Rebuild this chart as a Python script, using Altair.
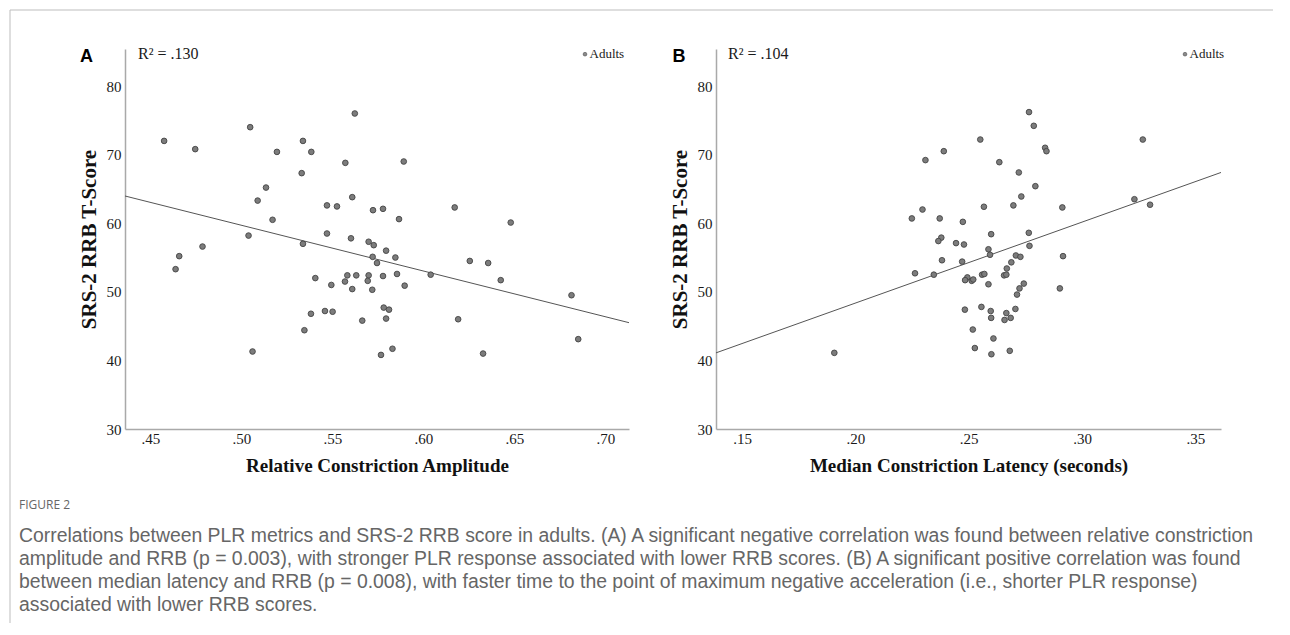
import altair as alt
import pandas as pd

# ---------------- data ----------------
a_amplitude = [0.4575, 0.4638, 0.4658, 0.4746, 0.4786, 0.5039, 0.5048, 0.5061, 0.5089, 0.5135, 0.5171, 0.5195,
               0.5623, 0.5338, 0.5384, 0.5571, 0.5892, 0.5331, 0.5609, 0.5470, 0.5525, 0.5723, 0.5778, 0.6172,
               0.5866, 0.5470, 0.5338, 0.5602, 0.5699, 0.5727, 0.5795, 0.5721, 0.5846, 0.5745, 0.6255, 0.5406,
               0.5582, 0.5631, 0.5699, 0.5778, 0.5855, 0.6040, 0.5494, 0.5569, 0.5694, 0.5897, 0.5609, 0.5719,
               0.5382, 0.5459, 0.5501, 0.5782, 0.5811, 0.5664, 0.5795, 0.6191, 0.5346, 0.5767, 0.5830,
               0.6356, 0.6425, 0.6480, 0.6814, 0.6851, 0.6328]
a_rrb = [72.0, 53.3, 55.2, 70.8, 56.6, 58.2, 74.0, 41.3, 63.3, 65.2, 60.5, 70.4,
         76.0, 72.0, 70.4, 68.8, 69.0, 67.3, 63.8, 62.6, 62.45, 61.9, 62.1, 62.3,
         60.6, 58.5, 57.0, 57.8, 57.3, 56.8, 56.0, 55.1, 55.0, 54.2, 54.5, 52.0,
         52.4, 52.4, 52.4, 52.3, 52.6, 52.5, 51.0, 51.5, 51.6, 50.9, 50.4, 50.3,
         46.8, 47.2, 47.1, 47.7, 47.4, 45.8, 46.1, 46.0, 44.4, 40.8, 41.7,
         54.2, 51.7, 60.1, 49.5, 43.1, 41.0]

b_latency = [0.2766, 0.2787, 0.2551, 0.2837, 0.2843, 0.2390, 0.2309, 0.2635, 0.2721, 0.2794, 0.2732, 0.2567,
             0.2697, 0.2913, 0.2296, 0.2249, 0.2372, 0.2474, 0.2599, 0.2765, 0.2379, 0.2366, 0.2444, 0.2479,
             0.2768, 0.2587, 0.2594, 0.2916, 0.2708, 0.2728, 0.2688, 0.2382, 0.2471, 0.2668, 0.2263, 0.2346,
             0.2559, 0.2569, 0.2656, 0.2666, 0.2494, 0.2484, 0.2513, 0.2520, 0.2587, 0.2743, 0.2724, 0.2902,
             0.2713, 0.2483, 0.2556, 0.2597, 0.2706, 0.2666, 0.2599, 0.2658, 0.2685, 0.2518, 0.2609, 0.2527,
             0.2600, 0.2681, 0.1907, 0.3268, 0.3231, 0.3300]
b_rrb = [76.2, 74.2, 72.2, 71.0, 70.5, 70.5, 69.2, 68.9, 67.4, 65.4, 63.9, 62.4,
         62.6, 62.3, 62.0, 60.7, 60.7, 60.2, 58.4, 58.6, 57.9, 57.4, 57.1, 56.9,
         56.7, 56.2, 55.4, 55.2, 55.3, 55.1, 54.3, 54.6, 54.4, 53.4, 52.7, 52.5,
         52.5, 52.6, 52.4, 52.5, 52.1, 51.7, 51.6, 51.8, 51.1, 51.2, 50.5, 50.5,
         49.6, 47.4, 47.8, 47.2, 47.5, 46.9, 46.2, 45.9, 46.2, 44.5, 43.2, 41.8,
         40.9, 41.4, 41.1, 72.2, 63.5, 62.7]

a_fit_x = [0.436, 0.713]
a_fit_y = [63.97, 45.5]
b_fit_x = [0.1385, 0.3613]
b_fit_y = [41.1, 67.4]

a_domain = [0.436, 0.713]
b_domain = [0.1385, 0.3613]
y_domain = [30, 85.4]
a_ticks = [0.45, 0.50, 0.55, 0.60, 0.65, 0.70]
b_ticks = [0.15, 0.20, 0.25, 0.30, 0.35]
y_ticks = [30, 40, 50, 60, 70, 80]

y_title = "SRS-2 RRB T-Score"
a_xtitle = "Relative Constriction Amplitude"
b_xtitle = "Median Constriction Latency (seconds)"
a_r2 = ["R\u00b2 = .130"]
b_r2 = ["R\u00b2 = .104"]
legend_label = ["Adults"]
fig_label = ["FIGURE 2"]
caption = ["Correlations between PLR metrics and SRS-2 RRB score in adults. (A) A significant negative correlation was found between relative constriction\n"
           "amplitude and RRB (p = 0.003), with stronger PLR response associated with lower RRB scores. (B) A significant positive correlation was found\n"
           "between median latency and RRB (p = 0.008), with faster time to the point of maximum negative acceleration (i.e., shorter PLR response)\n"
           "associated with lower RRB scores."]

SERIF = "Liberation Serif"
PW_A, PW_B, PH = 504, 505, 380


def one(col, vals):
    return pd.DataFrame({col: vals})


def panel(xs, ys, fx, fy, domain, ticks, xtitle, r2, letter, width,
          r2_x, leg_x, letter_x, extras=None):
    xscale = alt.Scale(domain=domain, nice=False, zero=False)
    yscale = alt.Scale(domain=y_domain, nice=False, zero=False)
    xaxis = alt.Axis(values=ticks, labelExpr="substring(format(datum.value, '.2f'), 1)",
                     title=xtitle, titleFontSize=19, labelPadding=2, titlePadding=10,
                     ticks=False, grid=False)
    yaxis = alt.Axis(values=y_ticks, title=y_title, titleFontSize=21, labelPadding=4,
                     titlePadding=7, ticks=False, grid=False)
    pts_df = pd.DataFrame({"x": xs, "y": ys})
    fit_df = pd.DataFrame({"x": fx, "y": fy})
    fit = alt.Chart(fit_df).mark_line(color="#555555", strokeWidth=1).encode(
        x=alt.X("x:Q", scale=xscale, axis=xaxis), y=alt.Y("y:Q", scale=yscale, axis=yaxis))
    pts = alt.Chart(pts_df).mark_circle(size=32, color="#7c7c7c", stroke="#444444",
                                        strokeWidth=0.9, opacity=1).encode(
        x=alt.X("x:Q", scale=xscale), y=alt.Y("y:Q", scale=yscale))
    r2t = alt.Chart(one("t", r2)).mark_text(font=SERIF, fontSize=16, align="left",
                                           baseline="middle", color="#1a1a1a").encode(
        text="t:N", x=alt.value(r2_x), y=alt.value(5))
    legp = alt.Chart(one("t", legend_label)).mark_circle(size=14, color="#8a8a8a",
                                                         stroke="#555555", strokeWidth=0.6,
                                                         opacity=1).encode(
        x=alt.value(leg_x), y=alt.value(5.2))
    legt = alt.Chart(one("t", legend_label)).mark_text(font=SERIF, fontSize=13, align="left",
                                                       baseline="middle", color="#1a1a1a").encode(
        text="t:N", x=alt.value(leg_x + 4.5), y=alt.value(5.2))
    lett = alt.Chart(one("t", [letter])).mark_text(font="Liberation Sans", fontSize=18,
                                                  fontWeight="bold", align="center",
                                                  baseline="middle", color="#000000").encode(
        text="t:N", x=alt.value(letter_x), y=alt.value(8))
    layers = [fit, pts, r2t, legp, legt, lett]
    if extras:
        layers += extras
    return alt.layer(*layers).properties(width=width, height=PH)


# frame and caption, placed relative to panel A
frame_left = alt.Chart(one("t", fig_label)).mark_rule(color="#bdbdbd", strokeWidth=1).encode(
    x=alt.value(-115), y=alt.value(-39), y2=alt.value(574))
frame_top = alt.Chart(one("t", fig_label)).mark_rule(color="#bdbdbd", strokeWidth=1).encode(
    x=alt.value(-115), x2=alt.value(1148), y=alt.value(-39))
fig_text = alt.Chart(one("t", fig_label)).mark_text(font="Open Sans", fontSize=12, align="left",
                                                    baseline="middle", color="#666666").encode(
    text="t:N", x=alt.value(-106), y=alt.value(455.5))
cap_text = alt.Chart(one("t", caption)).mark_text(font="Liberation Sans", fontSize=19.4, align="left",
                                                  baseline="middle", lineBreak="\n",
                                                  lineHeight=23.3, color="#666666").encode(
    text="t:N", x=alt.value(-106), y=alt.value(486.5))

pa = panel(a_amplitude, a_rrb, a_fit_x, a_fit_y, a_domain, a_ticks, a_xtitle, a_r2, "A", PW_A,
           r2_x=13, leg_x=460, letter_x=-38.5,
           extras=[frame_left, frame_top, fig_text, cap_text])
pb = panel(b_latency, b_rrb, b_fit_x, b_fit_y, b_domain, b_ticks, b_xtitle, b_r2, "B", PW_B,
           r2_x=12, leg_x=469, letter_x=-37)

chart = alt.hconcat(pa, pb, spacing=87, bounds="flush").properties(
    padding={"left": 1, "top": 1, "right": 0, "bottom": 0}
).configure_view(stroke="transparent").configure_axis(
    labelFont=SERIF, labelFontSize=15, labelColor="#1a1a1a",
    titleFont=SERIF, titleFontWeight="bold", titleColor="#111111",
    domainColor="#a9a9a9", domainWidth=1.5
)

chart.save("out.html", embed_options={"renderer": "svg", "actions": False})
